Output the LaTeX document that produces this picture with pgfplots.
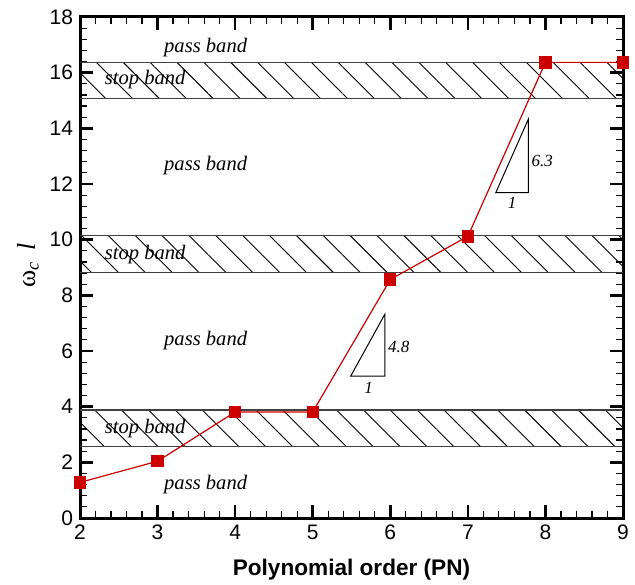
\documentclass[border=0pt]{standalone}
\usepackage{pgfplots}
\pgfplotsset{compat=1.18}
\usepackage{fontspec}
\setmainfont{Liberation Sans}
\newfontfamily\timesfont{Liberation Serif}
\usetikzlibrary{patterns.meta}
\definecolor{datared}{HTML}{CC0000}
\begin{document}
\begin{tikzpicture}
\begin{axis}[
  scale only axis,
  width=271.5pt, height=250.5pt,
  xmin=2, xmax=9, ymin=0, ymax=18,
  xtick={2,3,4,5,6,7,8,9},
  ytick={0,2,4,6,8,10,12,14,16,18},
  minor x tick num=4, minor y tick num=4,
  tick align=inside,
  major tick length=6.5pt, minor tick length=3.5pt,
  every major tick/.style={line width=1.3pt, black},
  every minor tick/.style={line width=0.6pt, black},
  axis line style={line width=1.5pt},
  /pgf/number format/assume math mode=true,
  ticklabel style={font=\fontsize{10.5}{12}\selectfont},
  xlabel={Polynomial order (PN)},
  xlabel style={font=\fontsize{11.3}{13}\selectfont\bfseries, at={(axis description cs:0.5,-0.104)}, anchor=center},
  ylabel={\timesfont ω\textsubscript{\textit{c}}\, \textit{l}},
  ylabel style={font=\fontsize{13}{15}\selectfont, at={(axis description cs:-0.0958,0.505)}, anchor=center, rotate=0},
  clip=false,
]
% stop bands
\addplot[draw=none, pattern={Lines[angle=-45,distance=9.5pt,line width=0.45pt]}, pattern color=black] coordinates {(2,15.06) (9,15.06) (9,16.37) (2,16.37)} -- cycle;
\addplot[draw=none, pattern={Lines[angle=-45,distance=9.5pt,line width=0.45pt]}, pattern color=black] coordinates {(2,8.83) (9,8.83) (9,10.14) (2,10.14)} -- cycle;
\addplot[draw=none, pattern={Lines[angle=-45,distance=9.5pt,line width=0.45pt]}, pattern color=black] coordinates {(2,2.56) (9,2.56) (9,3.88) (2,3.88)} -- cycle;
\addplot[black!75, line width=0.6pt] coordinates {(2,16.37) (9,16.37)};
\addplot[black!75, line width=0.6pt] coordinates {(2,15.06) (9,15.06)};
\addplot[black!75, line width=0.6pt] coordinates {(2,10.14) (9,10.14)};
\addplot[black!75, line width=0.6pt] coordinates {(2,8.83) (9,8.83)};
\addplot[black!75, line width=0.6pt] coordinates {(2,3.88) (9,3.88)};
\addplot[black!75, line width=0.6pt] coordinates {(2,2.56) (9,2.56)};
% band labels
\begin{scope}[every node/.style={font=\timesfont\itshape\fontsize{10.3}{12}\selectfont}]
\node at (axis cs:3.62,16.92) {pass band};
\node at (axis cs:2.84,15.74) {stop band};
\node at (axis cs:3.62,12.68) {pass band};
\node at (axis cs:2.84,9.45) {stop band};
\node at (axis cs:3.62,6.36) {pass band};
\node at (axis cs:2.84,3.23) {stop band};
\node at (axis cs:3.62,1.22) {pass band};
\end{scope}
% slope triangles
\addplot[black, line width=0.5pt] coordinates {(7.36,11.69) (7.78,11.69) (7.78,14.33)} -- cycle;
\addplot[black, line width=0.5pt] coordinates {(5.49,5.10) (5.93,5.10) (5.93,7.32)} -- cycle;
\begin{scope}[every node/.style={font=\timesfont\itshape\fontsize{8.5}{10}\selectfont}]
\node at (axis cs:7.96,12.83) {6.3};
\node at (axis cs:7.57,11.32) {1};
\node at (axis cs:6.11,6.13) {4.8};
\node at (axis cs:5.72,4.68) {1};
\end{scope}
% data
\addplot[datared, line width=0.6pt, mark=square*, mark size=2.8pt, mark options={fill=datared, draw=datared}] coordinates {
(2,1.28) (3,2.04) (4,3.81) (5,3.81) (6,8.57) (7,10.12) (8,16.37) (9,16.37)};
\end{axis}
\pgfresetboundingbox
\path[use as bounding box] ([xshift=-40pt,yshift=-33pt]current axis.south west) rectangle ([xshift=6pt,yshift=8.5pt]current axis.north east);
\end{tikzpicture}
\end{document}
